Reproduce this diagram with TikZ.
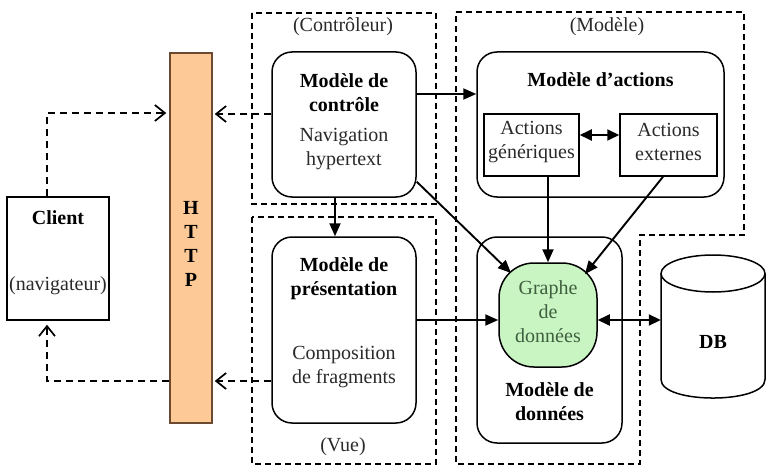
\documentclass[tikz,border=0pt]{standalone}
\usepackage{fontspec}
\setmainfont{Liberation Serif}
\usetikzlibrary{arrows.meta,calc}
\definecolor{httpfill}{HTML}{FDC996}
\definecolor{httpline}{HTML}{6B4A30}
\definecolor{graphfill}{HTML}{C9F5C3}
\definecolor{graphtext}{HTML}{3F5F3F}
\definecolor{txt}{HTML}{2A2A2A}
\begin{document}
\begin{tikzpicture}[x=1pt,y=-1pt,
  every node/.style={font=\fontsize{20}{24}\selectfont, text=txt, inner sep=0pt, align=center},
  bold/.style={font=\fontsize{20}{24}\selectfont\bfseries, text=black},
  rbox/.style={draw, line width=1.5pt, rounded corners=20pt},
  sbox/.style={draw, line width=1.5pt},
  dbox/.style={draw, line width=1.4pt, dash pattern=on 6pt off 4pt},
  arr/.style={line width=1.9pt, -{Triangle[length=13pt,width=11pt]}},
  biarr/.style={line width=1.9pt, {Triangle[length=12pt,width=11pt]}-{Triangle[length=12pt,width=11pt]}},
  darr/.style={line width=1.9pt, dash pattern=on 7pt off 5pt, -{Straight Barb[length=10pt,width=16pt,line width=1.7pt]}}]

\useasboundingbox (0,0) rectangle (770,468);

% dashed regions
\draw[dbox] (252,13) rectangle (436,204);
\draw[dbox] (252,217) rectangle (436,464);
\draw[dbox] (456,12) -- (744,12) -- (744,235) -- (640,235) -- (640,464) -- (456,464) -- cycle;
\node (lCtrl) at (343,27) {(Contrôleur)};
\node (lMod) at (607,27) {(Modèle)};
\node (lVue) at (343,447) {(Vue)};

% boxes
\node[sbox, fill=white, minimum width=102pt, minimum height=123pt] (client) at (58,258.5) {};
\node[draw=httpline, fill=httpfill, line width=1.5pt, minimum width=42pt, minimum height=370pt] (http) at (191,238) {};
\node[rbox, fill=white, minimum width=144pt, minimum height=145pt] (ctrl) at (344,124.5) {};
\node[rbox, fill=white, minimum width=144pt, minimum height=186pt] (pres) at (344,330) {};
\node[rbox, fill=white, minimum width=247pt, minimum height=145pt] (act) at (600.5,124.5) {};
\node[sbox, minimum width=95pt, minimum height=62pt] (gen) at (531.5,145) {};
\node[sbox, minimum width=97pt, minimum height=62pt] (ext) at (668.5,145) {};
\node[rbox, fill=white, minimum width=145pt, minimum height=206pt] (data) at (549.5,340) {};
\node[draw, line width=1.5pt, fill=graphfill, rounded corners=35pt, minimum width=98pt, minimum height=104pt] (graph) at (548,315) {};

% DB cylinder
\node[minimum width=104pt, minimum height=143pt] (db) at (713,326.5) {};
\draw[line width=1.5pt, fill=white] (661,273.5) -- (661,379.5) .. controls (661,404.2) and (765,404.2) .. (765,379.5) -- (765,273.5);
\draw[line width=1.5pt, fill=white] (713,273.5) ellipse [x radius=52pt, y radius=18.5pt];

% texts
\node[bold] (tClient) at (58,218) {Client};
\node (tNav) at (58,286) {(navigateur)};
\node[bold] (tHttp) at (191,244) {H\\T\\T\\P};
\node[bold] (tCtrl1) at (344,93) {Modèle de\\contrôle};
\node (tCtrl2) at (344,149) {Navigation\\hypertext};
\node[bold] (tPres1) at (344,278.5) {Modèle de\\présentation};
\node (tPres2) at (344,367) {Composition\\de fragments};
\node[bold] (tAct) at (600.5,80) {Modèle d’actions};
\node (tGen) at (531.5,142) {Actions\\génériques};
\node (tExt) at (668.5,142) {Actions\\externes};
\node[bold] (tData) at (549.5,401.5) {Modèle de\\données};
\node[text=graphtext] (tGraph) at (548,312) {Graphe\\de\\données};
\node[bold] (tDB) at (713,342) {DB};

% dashed connectors
\coordinate (cA) at ($(ctrl.west)+(0,-10.5)$);
\coordinate (pA) at ($(pres.west)+(0,51)$);
\coordinate (clT) at ($(client.north)+(-11,0)$);
\coordinate (clB) at ($(client.south)+(-11,4)$);
\draw[darr] (cA) -- ($(cA -| http.east)+(2,0)$);
\draw[darr] (pA) -- ($(pA -| http.east)+(2,0)$);
\draw[darr] (clT) |- ($(cA -| http.west)+(-3,-1)$);
\draw[darr] (pA -| http.west) -| (clB);

% solid connectors
\coordinate (cR) at ($(ctrl.east)+(0,-30.5)$);
\draw[arr] (cR) -- (cR -| act.west);
\coordinate (cS) at ($(ctrl.south)+(-9,0)$);
\draw[arr] (cS) -- (cS |- pres.north);
\draw[arr] ($(ctrl.south east)+(0,-16)$) -- ($(graph.center)+(-37,-42)$);
\draw[arr] (gen.south -| graph.north) -- (graph.north);
\draw[arr] ($(ext.south)+(-5.5,0)$) -- ($(graph.center)+(37,-41)$);
\coordinate (pR) at ($(pres.east)+(0,-10)$);
\draw[arr] (pR) -- (pR -| graph.west);
\coordinate (gR) at ($(graph.east)+(0,5)$);
\draw[biarr] (gR) -- (gR -| db.west);
\coordinate (gE) at ($(gen.east)+(0,-10)$);
\draw[biarr] (gE) -- (gE -| ext.west);
\end{tikzpicture}
\end{document}
